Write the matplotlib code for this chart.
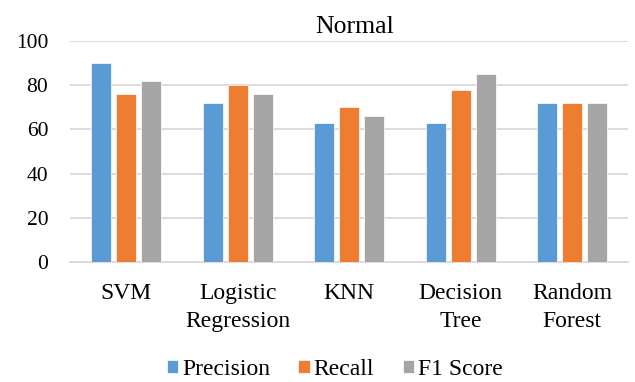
import matplotlib
matplotlib.use("Agg")
import matplotlib.pyplot as plt
import numpy as np

categories = ["SVM", "Logistic\nRegression", "KNN", "Decision\nTree", "Random\nForest"]
precision = [90, 72, 63, 63, 72]
recall = [76, 80, 70, 78, 72]
f1_score = [82, 76, 66, 85, 72]
series_names = ["Precision", "Recall", "F1 Score"]
colors = ["#5b9bd5", "#ed7d31", "#a5a5a5"]
y_ticks = [0, 20, 40, 60, 80, 100]

plt.rcParams["font.family"] = ["Liberation Serif", "DejaVu Serif"]

fig = plt.figure(figsize=(6.35, 3.82), dpi=100)
ax = fig.add_axes([0.111, 0.313, 0.878, 0.58])

x = np.arange(len(categories))
width = 0.18
step = 0.225
for i, (vals, name, c) in enumerate(zip([precision, recall, f1_score], series_names, colors)):
    ax.bar(x + (i - 1) * step, vals, width, color=c, label=name, zorder=3,
           edgecolor="white", linewidth=0.5)

ax.set_xlim(-0.5, len(categories) - 0.5)
ax.set_ylim(0, 100)
ax.set_yticks(y_ticks)
ax.set_xticks(x)
ax.set_xticklabels(categories, fontsize=17, linespacing=1.4)
ax.tick_params(axis="y", labelsize=15.5, length=0, pad=16)
ax.tick_params(axis="x", length=0, pad=15)
ax.yaxis.grid(True, color="#d9d9d9", linewidth=1.3, zorder=0)
for side in ["top", "right", "left"]:
    ax.spines[side].set_visible(False)
ax.spines["bottom"].set_color("#d9d9d9")
ax.spines["bottom"].set_linewidth(1.3)

ax.set_title("Normal", fontsize=18.5, pad=6, x=0.51)

fig.legend(loc="lower center", bbox_to_anchor=(0.527, -0.05), ncol=3, frameon=False,
           fontsize=17, handlelength=0.5, handleheight=0.5, handletextpad=0.15,
           columnspacing=1.2)

fig.savefig("out.png", dpi=100)
